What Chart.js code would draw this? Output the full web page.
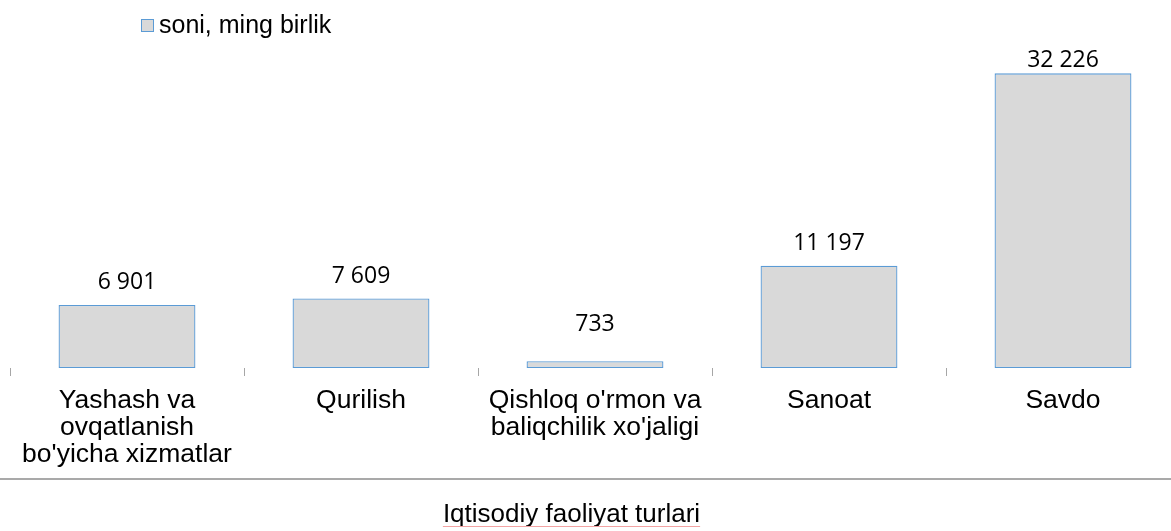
<!DOCTYPE html>
<html lang="uz">
<head>
    <meta charset="UTF-8">
    <title>Iqtisodiy faoliyat turlari</title>
    <script src="https://cdn.jsdelivr.net/npm/chart.js"></script>
    <style>
        html, body { margin: 0; padding: 0; background: #fff; overflow: hidden; }
        #wrap { width: 1180px; height: 531px; position: relative; }
    </style>
</head>
<body>
    <div id="wrap">
        <canvas id="grafik"></canvas>
    </div>

    <script>
        // Ma'lumotlar
        const kategoriyalar = [
            ['Yashash va', 'ovqatlanish', "bo'yicha xizmatlar"],
            'Qurilish',
            ["Qishloq o'rmon va", "baliqchilik xo'jaligi"],
            'Sanoat',
            'Savdo'
        ];
        const qiymatlar = [6901, 7609, 733, 11197, 32226];
        const seriyaNomi = 'soni, ming birlik';
        const oqTitle = 'Iqtisodiy faoliyat turlari';

        const barRangi = '#d9d9d9';
        const chegaraRangi = '#5b9bd5';

        function formatla(v) {
            return String(v).replace(/\B(?=(\d{3})+(?!\d))/g, ' ');
        }

        // Qiymat yozuvlari, ajratuvchi chiziq, o'q sarlavhasi va legenda
        const qoshimcha = {
            id: 'qoshimcha',
            afterDraw(chart) {
                const ctx = chart.ctx;
                const meta = chart.getDatasetMeta(0);
                const area = chart.chartArea;
                const xs = chart.scales.x;

                ctx.save();
                // qiymatlar
                ctx.font = '23px "Open Sans"';
                ctx.fillStyle = '#000';
                ctx.textAlign = 'center';
                ctx.textBaseline = 'middle';
                meta.data.forEach((bar, i) => {
                    let y = Math.min(bar.y - 22, bar.base - 44);
                    y = Math.max(y, area.top + 12);
                    ctx.fillText(formatla(qiymatlar[i]), bar.x, y);
                });

                // ajratuvchi chiziq
                ctx.strokeStyle = '#8c8c8c';
                ctx.lineWidth = 1.5;
                ctx.beginPath();
                ctx.moveTo(0, xs.bottom - 52);
                ctx.lineTo(chart.width, xs.bottom - 52);
                ctx.stroke();

                // o'q sarlavhasi va tagidagi qizil chiziq
                ctx.font = '26px "Liberation Sans"';
                ctx.textAlign = 'center';
                ctx.textBaseline = 'alphabetic';
                const cx = 571.5;
                ctx.fillText(oqTitle, cx, xs.bottom - 9);
                const w = ctx.measureText(oqTitle).width;
                ctx.strokeStyle = '#f3a3a3';
                ctx.lineWidth = 1;
                ctx.beginPath();
                ctx.moveTo(cx - w / 2, xs.bottom - 4.5);
                ctx.lineTo(cx + w / 2, xs.bottom - 4.5);
                ctx.stroke();

                // legenda
                ctx.fillStyle = barRangi;
                ctx.fillRect(141.5, 19.5, 12, 12);
                ctx.strokeStyle = chegaraRangi;
                ctx.lineWidth = 1;
                ctx.strokeRect(141.5, 19.5, 12, 12);
                ctx.fillStyle = '#000';
                ctx.textAlign = 'left';
                ctx.textBaseline = 'middle';
                ctx.font = '25px "Liberation Sans"';
                ctx.fillText(seriyaNomi, 159, 26);
                ctx.restore();
            }
        };

        const ctx = document.getElementById('grafik').getContext('2d');
        new Chart(ctx, {
            type: 'bar',
            data: {
                labels: kategoriyalar,
                datasets: [{
                    label: seriyaNomi,
                    data: qiymatlar,
                    backgroundColor: barRangi,
                    borderColor: chegaraRangi,
                    borderWidth: 1.3,
                    borderSkipped: false,
                    categoryPercentage: 1,
                    barPercentage: 0.585
                }]
            },
            options: {
                responsive: true,
                maintainAspectRatio: false,
                animation: false,
                layout: { padding: { top: 48, left: 10, right: 0, bottom: 0 } },
                plugins: {
                    legend: { display: false },
                    tooltip: { enabled: false }
                },
                scales: {
                    y: { display: false, min: 0, max: 35000 },
                    x: {
                        afterFit(scale) { scale.height = 163; },
                        border: { display: false },
                        grid: {
                            offset: true,
                            drawOnChartArea: false,
                            drawTicks: true,
                            tickLength: 8,
                            color: '#a6a6a6'
                        },
                        ticks: {
                            color: '#000',
                            font: { family: 'Liberation Sans', size: 26.5, lineHeight: 1.02 },
                            padding: 11,
                            maxRotation: 0,
                            autoSkip: false
                        },
                        title: { display: false }
                    }
                }
            },
            plugins: [qoshimcha]
        });
    </script>
</body>
</html>
